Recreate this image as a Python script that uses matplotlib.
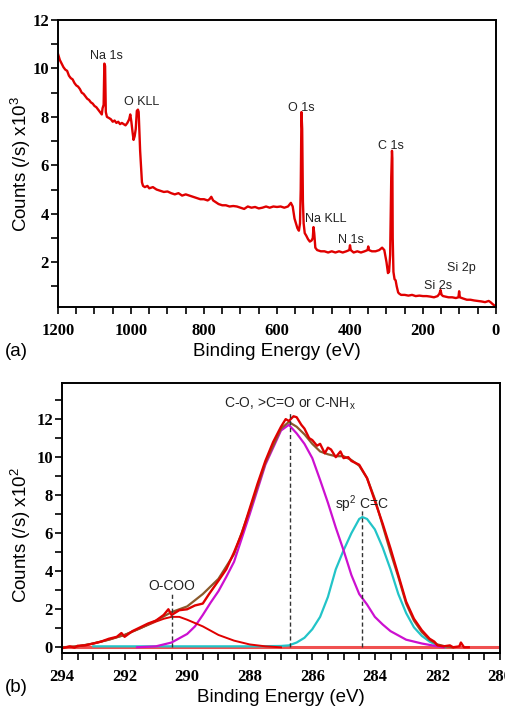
import matplotlib
matplotlib.use("Agg")
import matplotlib.pyplot as plt
from matplotlib.ticker import MultipleLocator

# (a) survey spectrum: binding energy (eV), counts x10^3
survey_be = [1200, 1195, 1190, 1185, 1180, 1175, 1170, 1165, 1160, 1155, 1150, 1145, 1140, 1135,
             1130, 1125, 1120, 1115, 1110, 1105, 1100, 1095, 1090, 1085, 1080, 1078, 1075, 1073,
             1071, 1070, 1069, 1066, 1060, 1055, 1050, 1045, 1040, 1035, 1030, 1025, 1020, 1015,
             1010, 1005, 1002, 999, 996, 993, 990, 987, 984, 981, 979, 977, 975, 972, 970, 967,
             962, 955, 950, 940, 930, 920, 910, 900, 890, 880, 870, 860, 850, 840, 830, 820, 810,
             800, 790, 785, 780, 775, 770, 760, 750, 740, 730, 720, 710, 700, 690, 680, 670, 660,
             650, 640, 630, 620, 610, 600, 590, 580, 570, 562, 557, 552, 548, 544, 540, 537, 535,
             533, 531, 529, 527, 524, 520, 515, 510, 505, 502, 500, 498, 495, 490, 480, 470, 460,
             450, 440, 430, 420, 410, 402, 400, 398, 390, 380, 370, 360, 352, 350, 348, 340, 330,
             320, 312, 306, 300, 296, 293, 290, 287, 285, 284, 283, 281, 278, 275, 272, 268, 265,
             260, 250, 240, 230, 220, 210, 200, 190, 180, 170, 160, 155, 152, 149, 145, 130, 120,
             110, 103, 101, 99, 90, 80, 70, 60, 50, 40, 30, 20, 15, 10, 5, 0]
survey_counts = [10.6, 10.35, 10.2, 10.05, 9.95, 9.9, 9.7, 9.6, 9.55, 9.4, 9.3, 9.25, 9.15, 9.0,
                 8.95, 8.85, 8.75, 8.7, 8.6, 8.55, 8.45, 8.4, 8.3, 8.2, 8.1, 8.35, 8.5, 10.2,
                 10.1, 9.0, 8.2, 8.0, 7.95, 7.9, 7.8, 7.85, 7.75, 7.8, 7.7, 7.75, 7.7, 7.65,
                 7.75, 7.9, 8.1, 7.8, 7.4, 7.05, 7.2, 7.5, 8.25, 8.3, 8.2, 7.4, 6.6, 5.8, 5.3, 5.15,
                 5.1, 5.15, 5.05, 5.1, 5.0, 4.95, 4.9, 4.92, 4.85, 4.8, 4.85, 4.75, 4.8, 4.75, 4.7, 4.65, 4.6,
                 4.6, 4.55, 4.6, 4.7, 4.55, 4.5, 4.4, 4.35, 4.35, 4.3, 4.32, 4.3, 4.25, 4.2, 4.3, 4.25, 4.28,
                 4.22, 4.25, 4.3, 4.25, 4.3, 4.28, 4.3, 4.25, 4.3, 4.45, 4.3, 3.8, 3.6, 3.4, 3.3, 3.6, 5.0,
                 8.2, 7.5, 4.5, 3.6, 3.2, 3.1, 2.95, 2.85, 2.9, 3.0, 3.45, 3.2, 2.6, 2.5, 2.45, 2.45, 2.4,
                 2.45, 2.4, 2.45, 2.4, 2.45, 2.5, 2.7, 2.5, 2.4, 2.45, 2.4, 2.45, 2.5, 2.65, 2.5, 2.45, 2.45,
                 2.5, 2.6, 2.5, 2.0, 1.55, 1.6, 2.3, 5.5, 6.6, 6.3, 3.0, 1.6, 1.3, 1.25, 1.0, 0.75, 0.7,
                 0.65, 0.65, 0.62, 0.65, 0.6, 0.62, 0.6, 0.6, 0.58, 0.55, 0.6, 0.7, 0.85, 0.65, 0.6, 0.55, 0.55,
                 0.52, 0.55, 0.8, 0.55, 0.5, 0.45, 0.45, 0.42, 0.4, 0.38, 0.35, 0.4, 0.35, 0.28, 0.22, 0.18]

survey_labels = ["Na 1s", "O KLL", "O 1s", "C 1s", "Na KLL", "N 1s", "Si 2s", "Si 2p"]
survey_label_be = [1068, 970, 534, 288, 466, 397, 159, 96]
survey_label_y = [10.5, 8.6, 8.35, 6.8, 3.8, 2.9, 1.0, 1.75]

# (b) C 1s high resolution: binding energy (eV), counts x10^2
raw_be = [294.0, 293.75, 293.6, 293.5, 293.25, 293.0, 292.75, 292.5, 292.25, 292.1, 292.0, 291.75,
          291.5, 291.25, 291.0, 290.75, 290.6, 290.5, 290.25, 290.0, 289.75, 289.5, 289.3, 289.0,
          288.75, 288.5, 288.25, 288.0, 287.75, 287.5, 287.25, 287.0, 286.85, 286.75, 286.6, 286.5,
          286.35, 286.25, 286.1, 286.0, 285.85, 285.75, 285.6, 285.5, 285.4, 285.25, 285.1, 285.0,
          284.85, 284.75, 284.5, 284.25, 284.0, 283.75, 283.5, 283.25, 283.0, 282.75, 282.5, 282.25,
          282.1, 282.0, 281.8, 281.6, 281.5, 281.3, 281.25, 281.15, 281.0]
raw_counts = [-0.05, 0.05, -0.02, 0.08, 0.1, 0.2, 0.3, 0.45, 0.55, 0.75, 0.55, 0.85,
              1.05, 1.25, 1.4, 1.7, 2.0, 1.7, 1.95, 2.0, 2.2, 2.3, 2.8, 3.5,
              4.1, 5.0, 6.0, 7.3, 8.6, 9.8, 10.8, 11.6, 12.0, 11.9, 12.15, 12.1,
              11.7, 11.5, 11.0, 10.9, 10.6, 10.7, 10.2, 10.5, 10.4, 10.0, 10.3, 9.95,
              10.0, 9.8, 9.6, 8.9, 7.7, 6.5, 5.2, 3.8, 2.4, 1.5, 0.9, 0.45,
              0.3, 0.1, 0.05, 0.1, 0.0, 0.05, 0.25, 0.0, 0.0]

env_be = [294.0, 293.5, 293.0, 292.5, 292.0, 291.5, 291.0, 290.5, 290.0, 289.5, 289.0, 288.5, 288.0,
          287.5, 287.0, 286.75, 286.5, 286.25, 286.0, 285.75, 285.5, 285.25, 285.0, 284.75, 284.5,
          284.25, 284.0, 283.75, 283.5, 283.25, 283.0, 282.75, 282.5, 282.25, 282.0, 281.75, 281.5]
env_counts = [0.0, 0.05, 0.2, 0.4, 0.65, 1.0, 1.4, 1.85, 2.15, 2.8, 3.6, 4.9, 7.2,
              9.7, 11.5, 11.85, 11.6, 11.2, 10.7, 10.3, 10.15, 10.05, 10.05, 9.85, 9.55,
              8.9, 7.8, 6.4, 5.0, 3.7, 2.3, 1.4, 0.8, 0.4, 0.15, 0.05, 0.0]

ocoo_be = [294.0, 293.5, 293.0, 292.5, 292.0, 291.5, 291.0, 290.75, 290.5, 290.25, 290.0, 289.5,
           289.0, 288.5, 288.0, 287.5, 287.0]
ocoo_counts = [0.0, 0.05, 0.2, 0.4, 0.65, 1.0, 1.35, 1.5, 1.6, 1.6, 1.45, 1.1,
               0.65, 0.35, 0.15, 0.05, 0.0]

co_be = [291.6, 291.0, 290.5, 290.0, 289.75, 289.5, 289.25, 289.0, 288.75, 288.5, 288.0, 287.5,
         287.0, 286.75, 286.5, 286.25, 286.0, 285.75, 285.5, 285.25, 285.0, 284.75, 284.5, 284.25,
         284.0, 283.75, 283.5, 283.0, 282.5, 282.0, 281.8]
co_counts = [0.0, 0.05, 0.25, 0.7, 1.1, 1.7, 2.35, 2.95, 3.7, 4.5, 7.0, 9.6,
             11.4, 11.7, 11.25, 10.7, 9.95, 8.8, 7.6, 6.3, 5.1, 3.8, 2.8, 2.25,
             1.6, 1.2, 0.85, 0.4, 0.2, 0.05, 0.0]

cc_be = [293.0, 288.0, 287.0, 286.75, 286.5, 286.25, 286.0, 285.75, 285.5, 285.25, 285.0, 284.75,
         284.5, 284.4, 284.25, 284.0, 283.75, 283.5, 283.25, 283.0, 282.75, 282.5, 282.25, 282.0,
         281.75]
cc_counts = [0.05, 0.05, 0.07, 0.1, 0.25, 0.5, 0.95, 1.6, 2.65, 4.1, 5.1, 6.0,
             6.75, 6.85, 6.75, 6.2, 5.25, 4.1, 2.8, 1.8, 1.05, 0.6, 0.3, 0.1,
             0.0]

peak_labels = ["O-COO", "C-O, >C=O or C-NH$_\\mathregular{x}$", "sp$^\\mathregular{2}$ C=C"]
peak_be = [290.5, 286.7, 284.4]
peak_line_top = [2.8, 12.4, 7.2]
peak_label_y = [3.25, 12.8, 7.55]

sans = "Liberation Sans"
serif = "Liberation Serif"
red = "#e00000"

fig = plt.figure(figsize=(5.06, 7.09), dpi=100)


def style_axes(ax):
    for sp in ax.spines.values():
        sp.set_linewidth(1.4)
    ax.tick_params(which="both", direction="out", length=5, width=1.2, top=False, right=False)
    ax.tick_params(axis="x", which="both", pad=6.5)
    ax.tick_params(axis="y", which="both", pad=1.5)
    for lab in ax.get_xticklabels() + ax.get_yticklabels():
        lab.set_fontfamily(serif)
        lab.set_fontweight("bold")
        lab.set_fontsize(12)


# ---- panel (a)
ax1 = fig.add_axes([58 / 506, 1 - 307 / 709, 438 / 506, 287 / 709])
ax1.plot(survey_be, survey_counts, color=red, lw=1.7)
ax1.set_xlim(1200, 0)
ax1.set_ylim(0.15, 12)
ax1.xaxis.set_major_locator(MultipleLocator(200))
ax1.xaxis.set_minor_locator(MultipleLocator(50))
ax1.set_yticks([2, 4, 6, 8, 10, 12])
ax1.yaxis.set_minor_locator(MultipleLocator(1))
style_axes(ax1)
ax1.set_xlabel("Binding Energy (eV)", fontfamily=sans, fontsize=13.5, labelpad=3)
ax1.set_ylabel("Counts (/s) x10$^\\mathregular{3}$", fontfamily=sans, fontsize=13.5)
ax1.yaxis.set_label_coords(-0.057, 0.5)
for txt, xb, yv in zip(survey_labels, survey_label_be, survey_label_y):
    ax1.text(xb, yv, txt, fontfamily=sans, fontsize=9, ha="center", va="center", color="#222222")
fig.text(5 / 506, 1 - 351 / 709, "(a)", fontfamily=sans, fontsize=13.5, va="center")

# ---- panel (b)
ax2 = fig.add_axes([62 / 506, 1 - 653 / 709, 438 / 506, 270 / 709])
ax2.plot([294, 280], [0, 0], color="#f05050", lw=2.2)
ax2.plot(cc_be, cc_counts, color="#22c4c8", lw=1.6)
ax2.plot(co_be, co_counts, color="#cc10d0", lw=1.6)
ax2.plot(ocoo_be, ocoo_counts, color=red, lw=1.4)
ax2.plot(env_be, env_counts, color="#8b5a2b", lw=1.6)
ax2.plot(raw_be, raw_counts, color=red, lw=1.7)
for xb, top in zip(peak_be, peak_line_top):
    ax2.plot([xb, xb], [0, top], color="#333333", lw=1.0, ls=(0, (3, 2)))
for txt, xb, yv in zip(peak_labels, peak_be, peak_label_y):
    ax2.text(xb, yv, txt, fontfamily=sans, fontsize=10, ha="center", va="center", color="#222222")
ax2.set_xlim(294, 280)
ax2.set_ylim(-0.3, 13.9)
ax2.xaxis.set_major_locator(MultipleLocator(2))
ax2.xaxis.set_minor_locator(MultipleLocator(0.5))
ax2.set_yticks([0, 2, 4, 6, 8, 10, 12])
ax2.yaxis.set_minor_locator(MultipleLocator(1))
style_axes(ax2)
ax2.set_xlabel("Binding Energy (eV)", fontfamily=sans, fontsize=13.5, labelpad=3)
ax2.set_ylabel("Counts (/s) x10$^\\mathregular{2}$", fontfamily=sans, fontsize=13.5)
ax2.yaxis.set_label_coords(-0.066, 0.437)
fig.text(5 / 506, 1 - 688 / 709, "(b)", fontfamily=sans, fontsize=13.5, va="center")

fig.savefig("out.png", dpi=100)
